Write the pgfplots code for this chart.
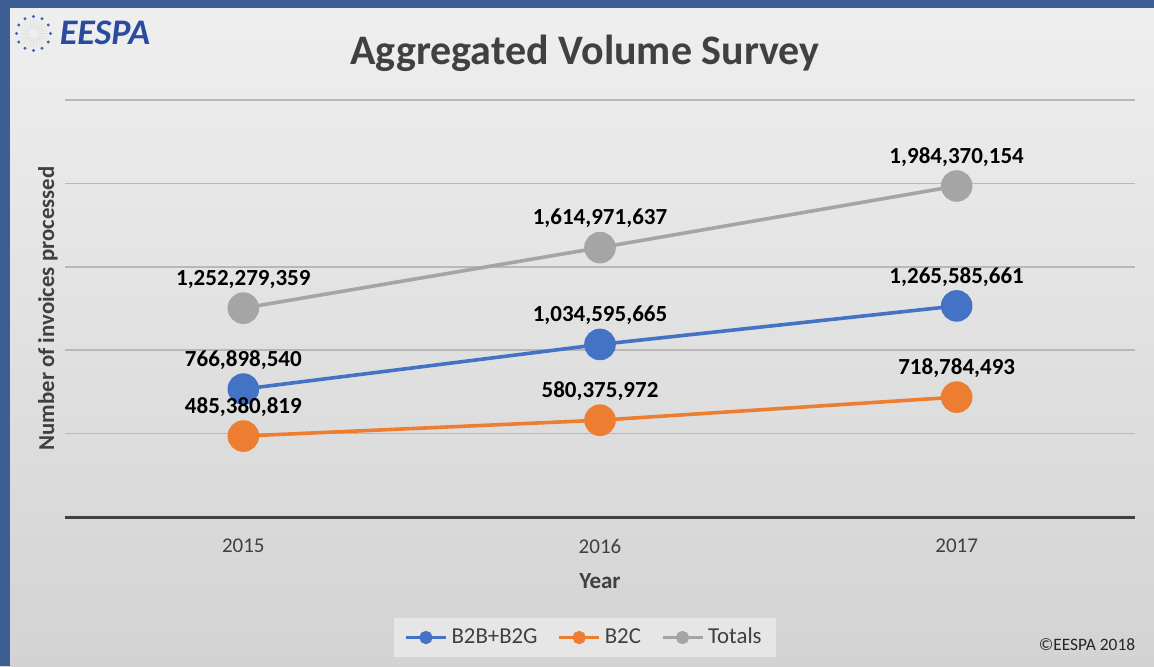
\documentclass[border=0pt]{standalone}
\usepackage{pgfplots}
\pgfplotsset{compat=1.18}
\usepackage{pgfplotstable}
\usepackage{fontspec}
\setmainfont{Carlito}
\definecolor{cblue}{HTML}{4472C4}
\definecolor{corange}{HTML}{ED7D31}
\definecolor{cgray}{HTML}{A5A5A5}
\definecolor{txt}{HTML}{404040}
\definecolor{framec}{HTML}{3D5E92}
\definecolor{logoc}{HTML}{2B4C9E}
\definecolor{gridc}{HTML}{B8B8B8}
\definecolor{bgtop}{HTML}{EFEFEF}
\definecolor{bgbot}{HTML}{D3D3D3}
\definecolor{legbg}{HTML}{E6E6E6}

\pgfplotstableread{
x y label
0 766898540 766,898,540
1 1034595665 1,034,595,665
2 1265585661 1,265,585,661
}\btob
\pgfplotstableread{
x y label
0 485380819 485,380,819
1 580375972 580,375,972
2 718784493 718,784,493
}\btoc
\pgfplotstableread{
x y label
0 1252279359 1,252,279,359
1 1614971637 1,614,971,637
2 1984370154 1,984,370,154
}\totals

\begin{document}
\begin{tikzpicture}
\useasboundingbox (0,0) rectangle (577pt,333pt);
\shade[top color=bgtop, bottom color=bgbot] (0,0) rectangle (577pt,333pt);
\fill[framec] (0,0) rectangle (5pt,333pt);
\fill[framec] (0,329pt) rectangle (577pt,333pt);
% logo
\foreach \a in {0,15,...,345}
  \draw[gray!25, line width=0.3pt] ({16.75pt+2.5pt*cos(\a)},{316.25pt+2.5pt*sin(\a)}) -- ({16.75pt+7pt*cos(\a)},{316.25pt+7pt*sin(\a)});
\foreach \a in {0,30,...,330}
  \fill[logoc!90] ({16.75pt+8.5pt*cos(\a)},{316.25pt+8.5pt*sin(\a)}) circle (0.85pt);
\node[font=\fontsize{18}{20}\selectfont\bfseries\itshape, text=logoc] at (52.5pt,316.5pt) {EESPA};
% title
\node[font=\fontsize{21}{24}\selectfont\bfseries, text=txt, anchor=base] at (292.5pt,301pt) {Aggregated Volume Survey};
% copyright
\node[font=\fontsize{8.7}{10}\selectfont, text=black!85] at (543.5pt,10.5pt) {©EESPA 2018};
\begin{axis}[
  at={(32.5pt,74.5pt)}, anchor=south west,
  scale only axis, width=535pt, height=208.5pt,
  xmin=-0.5, xmax=2.5, ymin=0, ymax=2500000000,
  xtick={0,1,2}, xticklabels={2015,2016,2017},
  ytick={0,500000000,1000000000,1500000000,2000000000,2500000000},
  yticklabels={}, scaled y ticks=false,
  ymajorgrids, grid style={draw=gridc, line width=0.75pt},
  axis x line*=bottom, axis y line*=left,
  x axis line style={draw=txt, line width=1.5pt},
  y axis line style={draw=none},
  major tick length=0pt,
  clip=false,
  /pgf/number format/assume math mode=true,
  xticklabel style={font=\fontsize{10.5}{12}\selectfont, text=txt, yshift=-7.5pt},
  xlabel={Year},
  xlabel style={font=\fontsize{11.5}{13}\selectfont\bfseries, text=txt, at={(axis description cs:0.5,-0.153)}, anchor=center},
  ylabel={Number of invoices processed},
  ylabel style={font=\fontsize{11.4}{13}\selectfont\bfseries, text=txt, at={(axis description cs:-0.0159,0.5)}, anchor=center},
  point meta=explicit symbolic,
  nodes near coords,
  every node near coord/.append style={font=\fontsize{11.5}{13}\selectfont\bfseries, text=black, anchor=center, yshift=14.5pt},
  legend columns=3,
  legend style={at={(axis description cs:0.486,-0.289)}, anchor=center, draw=none, fill=legbg,
    font=\fontsize{11.4}{13}\selectfont, text=txt, inner xsep=5pt, inner ysep=3pt,
    /tikz/every even column/.append style={column sep=8pt}},
  legend image code/.code={\draw[mark repeat=2, mark phase=2, mark size=2.5pt, line width=1.6pt] plot coordinates {(0pt,0pt) (10pt,0pt) (20pt,0pt)};},
]
\addplot[color=cblue, line width=1.8pt, mark=*, mark size=7pt, mark options={solid, fill=cblue, draw=cblue}] table[x=x, y=y, meta=label] {\btob};
\addlegendentry{B2B+B2G}
\addplot[color=corange, line width=1.8pt, mark=*, mark size=7pt, mark options={solid, fill=corange, draw=corange}] table[x=x, y=y, meta=label] {\btoc};
\addlegendentry{B2C}
\addplot[color=cgray, line width=1.8pt, mark=*, mark size=7pt, mark options={solid, fill=cgray, draw=cgray}] table[x=x, y=y, meta=label] {\totals};
\addlegendentry{Totals}
\end{axis}
\end{tikzpicture}
\end{document}
